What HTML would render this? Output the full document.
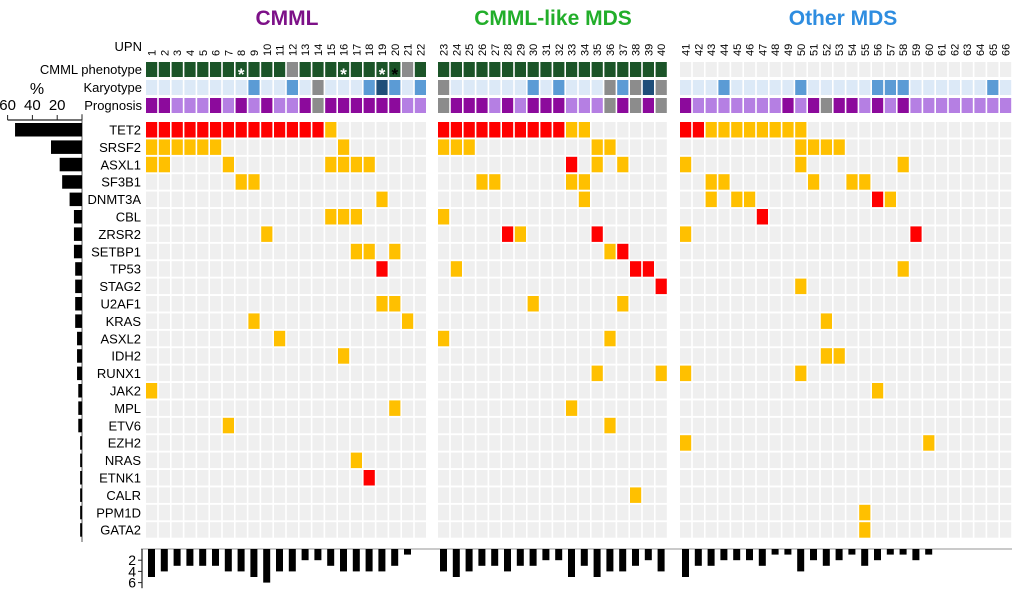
<!DOCTYPE html>
<html><head><meta charset="utf-8"><style>
body{margin:0;background:#fff}
svg{display:block;font-family:"Liberation Sans",sans-serif}
</style></head><body>
<svg id="c" width="1024" height="592" viewBox="0 0 1024 592" xmlns="http://www.w3.org/2000/svg">
<text x="287" y="25" text-anchor="middle" font-size="21" font-weight="bold" fill="#7d1188">CMML</text>
<text x="553" y="25" text-anchor="middle" font-size="21" font-weight="bold" fill="#22ae2a">CMML-like MDS</text>
<text x="843" y="25" text-anchor="middle" font-size="21" font-weight="bold" fill="#2e8de0">Other MDS</text>
<text x="142" y="51" text-anchor="end" font-size="13">UPN</text>
<text x="142" y="74" text-anchor="end" font-size="13">CMML phenotype</text>
<text x="142" y="92" text-anchor="end" font-size="13">Karyotype</text>
<text x="142" y="110" text-anchor="end" font-size="13">Prognosis</text>
<text x="37" y="94" text-anchor="middle" font-size="16">%</text>
</svg>
<script>
const genes=["TET2","SRSF2","ASXL1","SF3B1","DNMT3A","CBL","ZRSR2","SETBP1","TP53","STAG2","U2AF1","KRAS","ASXL2","IDH2","RUNX1","JAK2","MPL","ETV6","EZH2","NRAS","ETNK1","CALR","PPM1D","GATA2"];
const genePct=[54,25,18,16,10,6.5,6.5,6.5,5.5,5.5,5.5,5.5,4,4,4,3,3,3,1.5,1.5,1.5,1.5,1.5,1.5];
const pctTicks=[60,40,20];
// mutation matrix: '.' none, 'o' orange, 'r' red ; blocks of 22 | 18 | 26
const mut=[
"rrrrrrrrrrrrrro.......|rrrrrrrrrroo......|rroooooooo................",
"oooooo.........o......|ooo.........oo....|.........oooo..............",
"oo....o.......oooo....|..........r.o.o...|o........o.......o........",
".......oo.............|...oo.....oo......|..oo......o..oo...........",
"..................o...|...........o......|..o.oo.........ro.........",
"..............ooo.....|o.................|......r...................",
".........o............|.....ro.....r.....|o.................r.......",
"................oo.o..|.............or...|..........................",
"..................r...|.o.............rr.|.................o........",
"......................|.................r|.........o................",
"..................oo..|.......o......o...|..........................",
"........o...........o.|..................|...........o..............",
"..........o...........|o............o....|..........................",
"...............o......|..................|...........oo.............",
"......................|............o....o|o........o................",
"o.....................|..................|...............o..........",
"...................o..|..........o.......|..........................",
"......o...............|.............o....|..........................",
"......................|..................|o..................o......",
"................o.....|..................|..........................",
".................r....|..................|..........................",
"......................|...............o..|..........................",
"......................|..................|..............o...........",
"......................|..................|..............o..........."
];
// header rows per patient (66)
const phenotype="gggggggggggxggggggggxg"+"gggggggggggggggggg"+"nnnnnnnnnnnnnnnnnnnnnnnnnn";
const phenoStar="_______w_______w__wb__"+"__________________"+"__________________________";
const karyo="llllllllmllmlxlllmdmlm"+"xllllllmlmlllxmxdx"+"lllmlllllmlllllmmmllllllml";
const prog="ddllldldldlldxddddddll"+"xdddldldddlllxdxdx"+"dllllllldldxddldldllllllll";
const patientCounts=[5,4,3,3,3,3,4,4,5,6,4,4,2,2,3,4,4,4,4,3,1,0,
4,5,4,3,3,4,3,3,2,2,5,3,5,4,4,3,2,4,
5,3,3,2,2,2,3,1,1,4,2,3,2,1,3,2,1,1,2,1,0,0,0,0,0,0];
const countTicks=[2,4,6];

const svg=document.getElementById('c');
const NS="http://www.w3.org/2000/svg";
function mk(tag,attrs,parent){const e=document.createElementNS(NS,tag);for(const k in attrs)e.setAttribute(k,attrs[k]);(parent||svg).appendChild(e);return e;}
const pitch=12.8,cw=11.2;
function colX(i){return i<22?146+i*pitch:(i<40?438+(i-22)*pitch:680+(i-40)*pitch);}
function rowY(r){return 122+r*17.4;}
const rowH=15.5;
const C={o:"#ffc000",r:"#ff0000",".":"#efefef"};

// UPN labels
for(let i=0;i<66;i++){
  const cx=colX(i)+cw/2+4;
  const t=mk('text',{x:0,y:0,'font-size':11,transform:`translate(${cx},56) rotate(-90)`});
  t.textContent=String(i+1);
  
  
}
// header rows
const phenoC={g:"#1b5428",x:"#8c8c8c",n:"#efefef"};
const karyoC={l:"#dce9f7",m:"#5b9bd5",d:"#1f4e79",x:"#8c8c8c"};
const progC={d:"#8c0a9c",l:"#b57fe3",x:"#8c8c8c"};
for(let i=0;i<66;i++){
  const x=colX(i);
  let e=mk('rect',{x:x,y:62,width:cw,height:15,fill:phenoC[phenotype[i]]});
  
  
  if(phenoStar[i]!=='_'){
    const s=mk('text',{x:x+cw/2,y:80,'text-anchor':'middle','font-size':17,'font-weight':'bold',fill:phenoStar[i]==='w'?'#fff':'#000'});
    s.textContent='*';
    
    
  }
  e=mk('rect',{x:x,y:80,width:cw,height:15,fill:karyoC[karyo[i]]});
  
  
  e=mk('rect',{x:x,y:98,width:cw,height:15,fill:progC[prog[i]]});
  
  
}
// gene grid
genes.forEach((g,r)=>{
  const y=rowY(r);
  const t=mk('text',{x:141,y:y+12.5,'text-anchor':'end','font-size':13});
  t.textContent=g;
  
  
  const s=mut[r].replace(/\|/g,'');
  for(let i=0;i<66;i++){
    const e=mk('rect',{x:colX(i),y:y,width:cw,height:rowH,fill:C[s[i]]});
    
    
  }
});
// left percentage bar chart
const px0=82,pxs=1.24;
function pX(v){return px0-v*pxs;}
let ax=mk('line',{x1:pX(60),y1:120,x2:px0,y2:120,stroke:'#222','stroke-width':1.2});


ax=mk('line',{x1:px0,y1:114,x2:px0,y2:542,stroke:'#555','stroke-width':1});


pctTicks.concat([0]).forEach(v=>{
  const l=mk('line',{x1:pX(v),y1:115,x2:pX(v),y2:120,stroke:'#222'});
  
  
});
pctTicks.forEach(v=>{
  const t=mk('text',{x:pX(v),y:110,'text-anchor':'middle','font-size':15});
  t.textContent=v;
  
  
});
genePct.forEach((v,r)=>{
  const b=mk('rect',{x:pX(v),y:rowY(r)+1,width:v*pxs,height:13.5,fill:'#000'});
  
  
});
// bottom count bar chart
const by0=549,bys=5.6;
function bY(v){return by0+v*bys;}
ax=mk('line',{x1:141,y1:by0,x2:1012,y2:by0,stroke:'#aaa','stroke-width':1.2});


ax=mk('line',{x1:142,y1:by0,x2:142,y2:bY(7),stroke:'#222','stroke-width':1.2});


countTicks.forEach(v=>{
  const l=mk('line',{x1:138,y1:bY(v),x2:142,y2:bY(v),stroke:'#222'});
  
  
  const t=mk('text',{x:136,y:bY(v)+5,'text-anchor':'end','font-size':14});
  t.textContent=v;
  
  
});
patientCounts.forEach((v,i)=>{
  if(v<=0)return;
  const b=mk('rect',{x:colX(i)+2,y:by0,width:7,height:v*bys,fill:'#000'});
  
  
});
</script>
</body></html>
